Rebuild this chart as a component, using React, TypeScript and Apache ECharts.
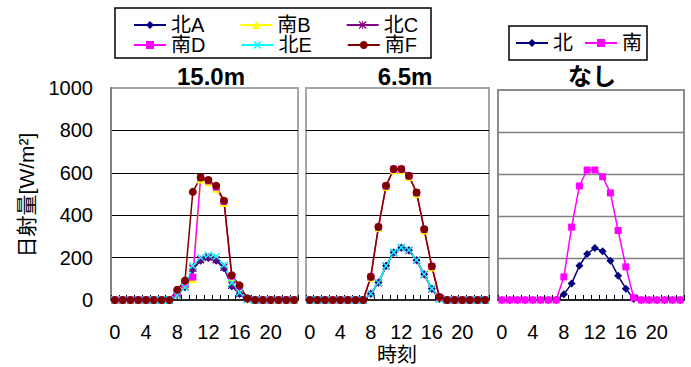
import React, { useEffect, useRef } from "react";
import * as echarts from "echarts";

const hours = ["0","1","2","3","4","5","6","7","8","9","10","11","12","13","14","15","16","17","18","19","20","21","22","23"];
const yTicks = [0, 200, 400, 600, 800, 1000];

// Panel 1: 15.0m
const p1KitaA = [0,0,0,0,0,0,0,0,25,60,145,185,198,185,150,65,28,3,0,0,0,0,0,0];
const p1MinamiB = [0,0,0,0,0,0,0,0,28,70,98,568,555,525,458,108,58,5,0,0,0,0,0,0];
const p1KitaC = [0,0,0,0,0,0,0,0,24,62,150,190,202,190,155,70,30,3,0,0,0,0,0,0];
const p1MinamiD = [0,0,0,0,0,0,0,0,30,75,108,578,562,532,465,112,62,6,0,0,0,0,0,0];
const p1KitaE = [0,0,0,0,0,0,0,0,22,60,160,200,212,205,165,80,35,4,0,0,0,0,0,0];
const p1MinamiF = [0,0,0,0,0,0,0,0,48,92,510,578,566,539,468,117,69,8,0,0,0,0,0,0];

// Panel 2: 6.5m
const p2KitaA = [0,0,0,0,0,0,0,0,30,82,161,224,247,235,188,121,53,5,0,0,0,0,0,0];
const p2MinamiB = [0,0,0,0,0,0,0,0,105,340,533,612,612,580,500,328,153,12,0,0,0,0,0,0];
const p2KitaC = [0,0,0,0,0,0,0,0,30,81,160,223,246,234,187,120,52,5,0,0,0,0,0,0];
const p2MinamiD = [0,0,0,0,0,0,0,0,109,344,538,617,617,585,506,333,158,13,0,0,0,0,0,0];
const p2KitaE = [0,0,0,0,0,0,0,0,30,82,162,225,248,236,189,122,54,5,0,0,0,0,0,0];
const p2MinamiF = [0,0,0,0,0,0,0,0,110,345,539,618,618,586,507,334,159,14,0,0,0,0,0,0];

// Panel 3: なし
const p3Kita = [0,0,0,0,0,0,0,0,27,78,163,219,248,232,187,115,54,5,0,0,0,0,0,0];
const p3Minami = [0,0,0,0,0,0,0,0,110,347,543,619,619,587,510,331,158,11,0,0,0,0,0,0];

const panelTitles = ["15.0m", "6.5m", "なし"];
const legendRow1 = ["北A", "南B", "北C"];
const legendRow2 = ["南D", "北E", "南F"];
const legend3 = ["北", "南"];

const FONT = "'Liberation Sans', Arial, 'Noto Sans CJK JP', sans-serif";

const XMARK = "path://M0 1.2 L1.2 0 L10 8.8 L8.8 10 Z M8.8 0 L10 1.2 L1.2 10 L0 8.8 Z";
const STAR = "path://M0 1.2 L1.2 0 L10 8.8 L8.8 10 Z M8.8 0 L10 1.2 L1.2 10 L0 8.8 Z M4.4 0 L5.6 0 L5.6 10 L4.4 10 Z";

type Sty = { color: string; symbol: string; size: number };
const styles: Record<string, Sty> = {
  "北A": { color: "#000080", symbol: "diamond", size: 8 },
  "南B": { color: "#FFFF00", symbol: "triangle", size: 8 },
  "北C": { color: "#800080", symbol: STAR, size: 8 },
  "南D": { color: "#FF00FF", symbol: "rect", size: 7 },
  "北E": { color: "#00FFFF", symbol: XMARK, size: 8 },
  "南F": { color: "#800000", symbol: "circle", size: 8 },
  "北": { color: "#000080", symbol: "diamond", size: 8 },
  "南": { color: "#FF00FF", symbol: "rect", size: 7 },
};

function mk(name: string, data: number[], idx: number) {
  const s = styles[name];
  return {
    type: "line",
    name,
    data,
    xAxisIndex: idx,
    yAxisIndex: idx,
    symbol: s.symbol,
    symbolSize: s.size,
    showSymbol: true,
    showAllSymbol: true,
    lineStyle: { color: s.color, width: 1.5 },
    itemStyle: { color: s.color },
    emphasis: { disabled: true },
  };
}

export default function App() {
  const ref = useRef<HTMLDivElement>(null);
  useEffect(() => {
    if (!ref.current) return;
    const chart = echarts.init(ref.current, undefined, { renderer: "svg" });
    const grids = [
      { left: 111, top: 88, width: 187, height: 212 },
      { left: 306, top: 88, width: 183, height: 212 },
      { left: 498, top: 90, width: 186, height: 210 },
    ];
    const borderCols = ["#a6a6a6", "#a6a6a6", "#8c8c8c"];
    const splitCols = ["#000000", "#000000", "#808080"];
    const option: any = {
      animation: false,
      backgroundColor: "#ffffff",
      textStyle: { fontFamily: FONT },
      title: [
        { text: panelTitles[0], left: 211, top: 64, textAlign: "center" },
        { text: panelTitles[1], left: 405, top: 64, textAlign: "center" },
        { text: panelTitles[2], left: 592, top: 64, textAlign: "center" },
      ].map((t) => ({ ...t, padding: 0, textStyle: { fontSize: 24, fontWeight: "bold", color: "#000", fontFamily: FONT } })),
      legend: [
        { data: legendRow1, left: 133, top: 15 },
        { data: legendRow2, left: 133, top: 35 },
      ].map((l) => ({
        ...l,
        orient: "horizontal",
        padding: 0,
        itemWidth: 32,
        itemHeight: 10,
        itemGap: 35,
        selectedMode: false,
        textStyle: { fontSize: 20, color: "#000", fontFamily: FONT, width: 40 },
      })).concat([
        {
          data: legend3,
          left: 515,
          top: 33,
          orient: "horizontal",
          padding: 0,
          itemWidth: 32,
          itemHeight: 10,
          itemGap: 11,
          selectedMode: false,
          textStyle: { fontSize: 20, color: "#000", fontFamily: FONT },
        } as any,
      ]),
      grid: grids.map((g, i) => ({ ...g, show: true, borderColor: borderCols[i], borderWidth: 2, backgroundColor: "transparent" })),
      xAxis: grids.map((_, i) => ({
        type: "category",
        gridIndex: i,
        data: hours,
        boundaryGap: true,
        axisLine: { show: true, lineStyle: { color: "#000", width: 1.5 } },
        axisTick: { show: true, inside: true, interval: 0, length: 5, lineStyle: { color: "#000", width: 1 } },
        axisLabel: { show: true, interval: 3, margin: 22, fontSize: 20, color: "#000", fontFamily: FONT },
        splitLine: { show: false },
      })),
      yAxis: grids.map((_, i) => ({
        type: "value",
        gridIndex: i,
        min: 0,
        max: 1000,
        interval: 200,
        axisLine: { show: i === 0, lineStyle: { color: "#808080", width: 2 } },
        axisTick: { show: false },
        axisLabel: {
          show: i === 0,
          margin: 18,
          fontSize: 20,
          color: "#000",
          fontFamily: FONT,
          padding: [6, 0, 0, 0],
          formatter: (v: number) => (yTicks.includes(v) ? String(v) : ""),
        },
        splitLine: { show: true, showMinLine: false, showMaxLine: false, lineStyle: { color: splitCols[i], width: i === 2 ? 1.3 : 1 } },
      })),
      series: [
        mk("北A", p1KitaA, 0),
        mk("南B", p1MinamiB, 0),
        mk("北C", p1KitaC, 0),
        mk("南D", p1MinamiD, 0),
        mk("北E", p1KitaE, 0),
        mk("南F", p1MinamiF, 0),
        mk("北A", p2KitaA, 1),
        mk("南B", p2MinamiB, 1),
        mk("北C", p2KitaC, 1),
        mk("南D", p2MinamiD, 1),
        mk("北E", p2KitaE, 1),
        mk("南F", p2MinamiF, 1),
        mk("北", p3Kita, 2),
        mk("南", p3Minami, 2),
      ],
      graphic: [
        { type: "rect", shape: { x: 115, y: 8, width: 316, height: 50 }, style: { fill: "none", stroke: "#000", lineWidth: 1.5 }, silent: true },
        { type: "rect", shape: { x: 509, y: 26, width: 138, height: 34 }, style: { fill: "none", stroke: "#000", lineWidth: 1.5 }, silent: true },
        {
          type: "text",
          x: 397,
          y: 355,
          style: { text: "時刻", fontSize: 20, fontFamily: FONT, fill: "#000", textAlign: "center", textVerticalAlign: "middle" },
        },
        {
          type: "text",
          x: 26,
          y: 195,
          rotation: Math.PI / 2,
          style: { text: "日射量[W/m²]", fontSize: 21, fontFamily: FONT, fill: "#000", textAlign: "center", textVerticalAlign: "middle" },
        },
      ],
    };
    chart.setOption(option);
    return () => chart.dispose();
  }, []);
  return <div ref={ref} style={{ width: 691, height: 367, position: "absolute", left: 0, top: 0 }} />;
}
